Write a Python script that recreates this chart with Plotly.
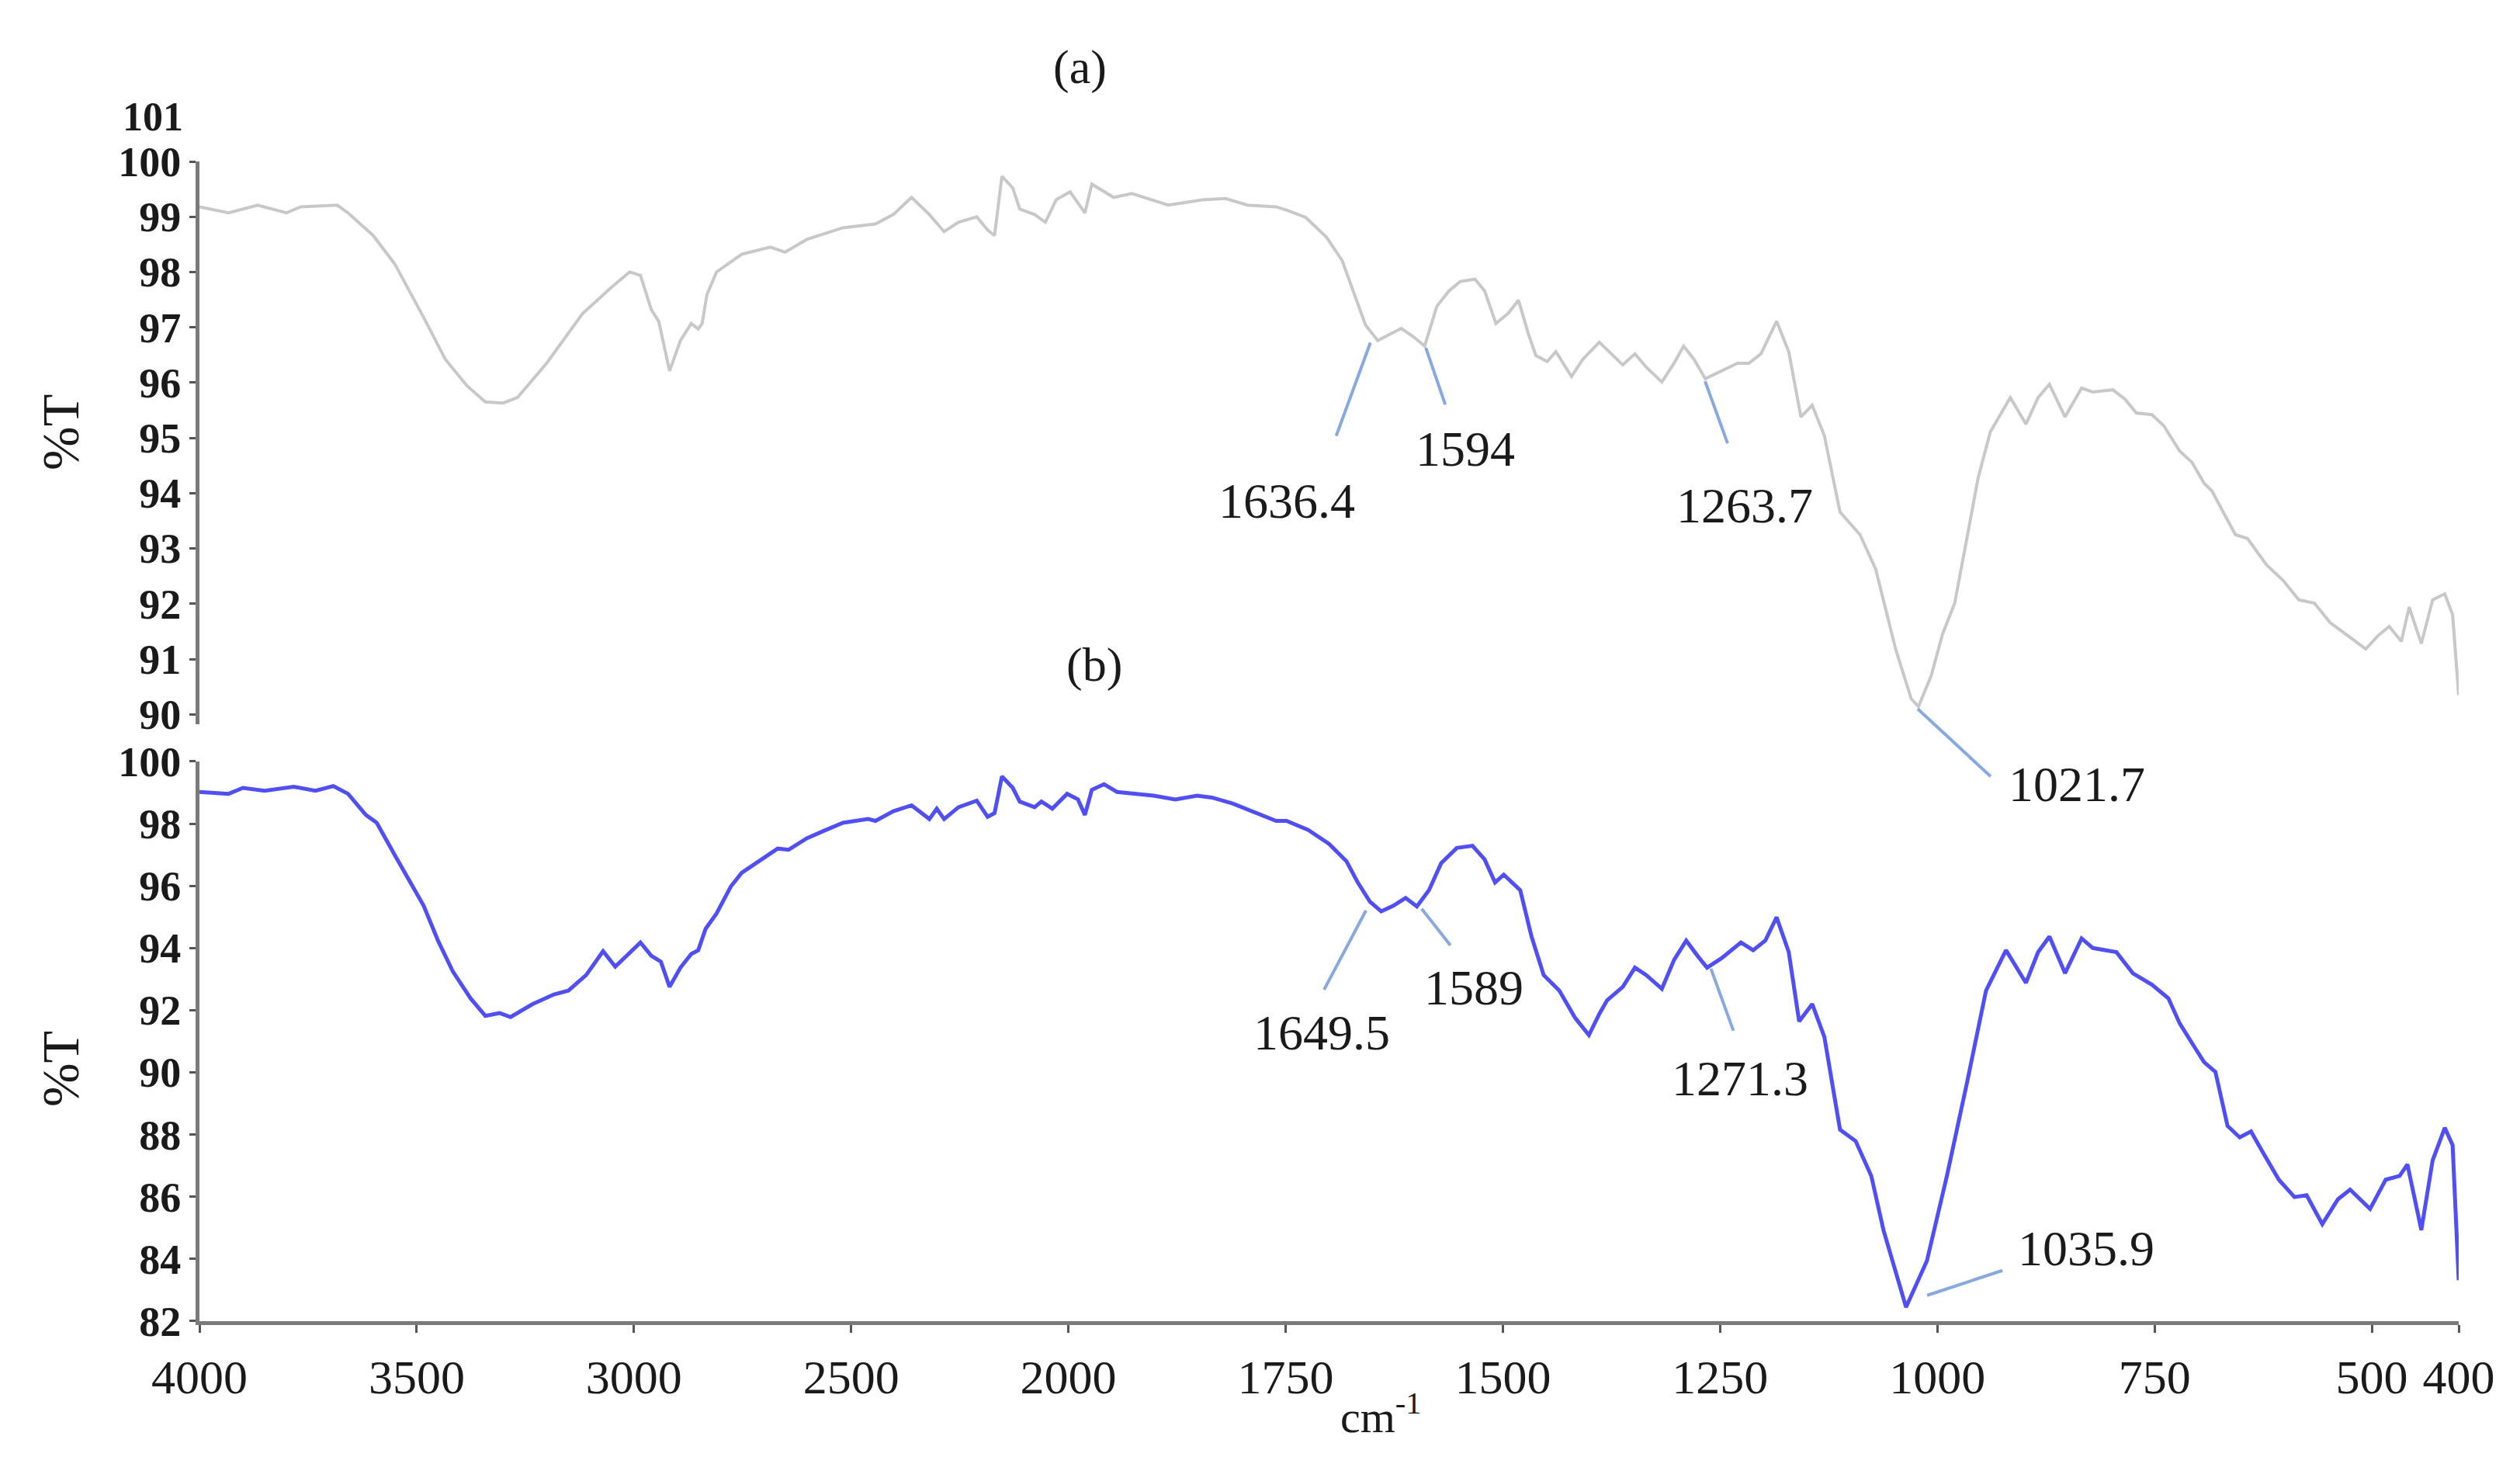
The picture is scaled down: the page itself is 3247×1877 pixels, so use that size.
import numpy as np
import plotly.graph_objects as go

# ---------------- data ----------------
wn_a = [4000, 3933, 3866, 3800, 3767, 3683, 3658, 3600, 3550, 3484, 3434, 3384, 3342, 3301, 3268,
        3201, 3118, 3051, 3010, 2985, 2960, 2943, 2918, 2893, 2868, 2852, 2843, 2832, 2810, 2752,
        2686, 2652, 2602, 2519, 2444, 2403, 2361, 2320, 2286, 2253, 2211, 2186, 2170, 2153, 2128,
        2112, 2078, 2053, 2028, 1998, 1981, 1973, 1948, 1927, 1885, 1844, 1819, 1794, 1761, 1749,
        1727, 1703, 1685, 1671, 1658, 1644, 1630, 1617, 1603, 1590, 1576, 1562, 1549, 1532, 1521,
        1508, 1494, 1482, 1471, 1462, 1449, 1439, 1421, 1408, 1389, 1371, 1362, 1348, 1335, 1317,
        1303, 1292, 1280, 1267, 1248, 1230, 1217, 1203, 1185, 1171, 1157, 1144, 1130, 1112, 1089,
        1071, 1048, 1030, 1021.7, 1007, 994, 980, 966, 953, 939, 916, 898, 884, 871, 853,
        834, 821, 798, 784, 771, 753, 739, 721, 707, 693, 684, 671, 657, 643, 621,
        602, 584, 566, 548, 530, 507, 493, 480, 466, 457, 443, 430, 416, 407, 400]
t_a = [99.18, 99.07, 99.21, 99.07, 99.18, 99.21, 99.07, 98.66, 98.14, 97.18, 96.42, 95.94, 95.65, 95.63, 95.73,
       96.35, 97.25, 97.73, 98.00, 97.94, 97.32, 97.11, 96.21, 96.76, 97.07, 96.97, 97.07, 97.59, 98.00, 98.32,
       98.45, 98.36, 98.59, 98.80, 98.87, 99.04, 99.35, 99.04, 98.73, 98.90, 99.00, 98.76, 98.66, 99.73, 99.52,
       99.14, 99.04, 98.90, 99.31, 99.45, 99.07, 99.59, 99.35, 99.42, 99.21, 99.31, 99.33, 99.21, 99.18, 99.12,
       98.99, 98.63, 98.21, 97.59, 97.04, 96.76, 96.87, 96.98, 96.83, 96.66, 97.38, 97.66, 97.83, 97.87, 97.66,
       97.07, 97.25, 97.49, 96.90, 96.49, 96.38, 96.56, 96.11, 96.42, 96.73, 96.45, 96.32, 96.52, 96.28, 96.01,
       96.35, 96.66, 96.42, 96.07, 96.21, 96.35, 96.35, 96.52, 97.11, 96.56, 95.38, 95.59, 95.04, 93.66, 93.25,
       92.63, 91.18, 90.28, 90.14, 90.70, 91.45, 92.01, 93.18, 94.28, 95.11, 95.73, 95.25, 95.73, 95.97, 95.38,
       95.90, 95.83, 95.87, 95.70, 95.45, 95.42, 95.21, 94.76, 94.56, 94.18, 94.04, 93.66, 93.25, 93.18, 92.70,
       92.42, 92.07, 92.01, 91.66, 91.45, 91.18, 91.42, 91.59, 91.32, 91.94, 91.28, 92.07, 92.18, 91.80, 90.35]

wn_b = [4000, 3933, 3900, 3850, 3783, 3733, 3692, 3658, 3617, 3592, 3550, 3484, 3451, 3417, 3376,
        3342, 3309, 3284, 3234, 3184, 3151, 3110, 3071, 3043, 2985, 2960, 2938, 2918, 2893, 2868,
        2852, 2835, 2810, 2777, 2752, 2702, 2669, 2644, 2602, 2561, 2519, 2461, 2444, 2403, 2361,
        2320, 2303, 2286, 2253, 2211, 2186, 2170, 2153, 2128, 2112, 2078, 2062, 2037, 2003, 1989,
        1981, 1973, 1959, 1944, 1902, 1877, 1852, 1835, 1811, 1761, 1749, 1724, 1700, 1680, 1667,
        1653, 1640, 1626, 1612, 1599, 1585, 1571, 1553, 1535, 1521, 1509, 1499, 1480, 1467, 1453,
        1435, 1417, 1401, 1389, 1380, 1362, 1348, 1335, 1317, 1303, 1289, 1276, 1265, 1248, 1226,
        1212, 1198, 1185, 1171, 1159, 1144, 1130, 1112, 1094, 1076, 1062, 1048, 1036, 1012, 989,
        966, 944, 921, 898, 884, 871, 853, 834, 821, 794, 775, 753, 734, 721, 703,
        693, 680, 666, 652, 639, 625, 607, 589, 575, 557, 539, 525, 502, 484, 468,
        459, 443, 430, 416, 407, 400]
t_b = [99.02, 98.96, 99.15, 99.06, 99.19, 99.06, 99.21, 98.96, 98.28, 98.03, 96.98, 95.36, 94.24, 93.25, 92.38,
       91.82, 91.91, 91.78, 92.19, 92.51, 92.63, 93.13, 93.90, 93.40, 94.18, 93.75, 93.56, 92.75, 93.37, 93.81,
       93.93, 94.62, 95.11, 95.98, 96.42, 96.91, 97.20, 97.16, 97.53, 97.78, 98.03, 98.15, 98.09, 98.40, 98.59,
       98.15, 98.48, 98.15, 98.53, 98.74, 98.22, 98.34, 99.52, 99.15, 98.71, 98.53, 98.71, 98.48, 98.96, 98.78,
       98.28, 99.09, 99.27, 99.02, 98.90, 98.78, 98.90, 98.84, 98.65, 98.09, 98.09, 97.80, 97.35, 96.79, 96.11,
       95.49, 95.18, 95.36, 95.61, 95.34, 95.86, 96.73, 97.22, 97.29, 96.85, 96.11, 96.36, 95.86, 94.37, 93.13,
       92.63, 91.76, 91.20, 91.88, 92.32, 92.75, 93.37, 93.13, 92.69, 93.62, 94.24, 93.75, 93.37, 93.68, 94.18,
       93.93, 94.24, 94.99, 93.87, 91.64, 92.20, 91.14, 88.16, 87.79, 86.67, 84.93, 83.56, 82.45, 83.94, 86.67,
       89.65, 92.63, 93.93, 92.88, 93.87, 94.37, 93.19, 94.31, 94.00, 93.87, 93.19, 92.82, 92.38, 91.57, 90.77,
       90.33, 90.02, 88.28, 87.91, 88.10, 87.41, 86.55, 85.99, 86.05, 85.12, 85.92, 86.23, 85.61, 86.55, 86.67,
       87.04, 84.93, 87.17, 88.22, 87.66, 83.32]

x_ticks = [4000, 3500, 3000, 2500, 2000, 1750, 1500, 1250, 1000, 750, 500, 400]
y_ticks_a = [90, 91, 92, 93, 94, 95, 96, 97, 98, 99, 100]
y_ticks_b = [82, 84, 86, 88, 90, 92, 94, 96, 98, 100]

peaks_a = [1636.4, 1594, 1263.7, 1021.7]
peaks_b = [1649.5, 1589, 1271.3, 1035.9]

# label geometry (pixel offsets from the peak point, +y = up): line start, line end, text centre
lab_a = [((-18, -7), (-62, -127), (-126, -211)),
         ((6, -6), (31, -79), (57, -136)),
         ((-4, -5), (25, -85), (47, -165)),
         ((-1, -3), (93, -90), (204, -100))]
lab_b = [((-9, -8), (-63, -110), (-66, -166)),
         ((-5, -18), (32, -65), (62, -120)),
         ((12, -10), (41, -90), (50, -152)),
         ((27, 15), (124, 47), (232, 75))]

X_RANGE = [3000, 400]
Y_RANGE_A = [89.82, 100]
Y_RANGE_B = [82, 100]
DOM_A = [0.5147, 1.0]
DOM_B = [0.0, 0.4826]


def tx(w):
    """scale change at 2000 cm-1 (region above 2000 compressed 2x)"""
    w = np.asarray(w, dtype=float)
    return np.where(w <= 2000, w, 2000 + (w - 2000) / 2.0)


def to_paper_x(xv):
    return (X_RANGE[0] - xv) / (X_RANGE[0] - X_RANGE[1])


def to_paper_y(v, rng, dom):
    return dom[0] + (v - rng[0]) / (rng[1] - rng[0]) * (dom[1] - dom[0])


SERIF = "Liberation Serif"
LEAD = "#87a9df"
AXC = "#7a7a7a"
TXT = "#1a1a1a"

fig = go.Figure()
fig.add_trace(go.Scatter(x=tx(wn_a), y=t_a, mode="lines", xaxis="x", yaxis="y",
                         line=dict(color="#c8c8c8", width=4), showlegend=False))
fig.add_trace(go.Scatter(x=tx(wn_b), y=t_b, mode="lines", xaxis="x2", yaxis="y2",
                         line=dict(color="#4f4ff5", width=5), showlegend=False))

shapes = []
annots = []
wa = np.array(wn_a)[::-1]; ta = np.array(t_a)[::-1]
wb = np.array(wn_b)[::-1]; tb = np.array(t_b)[::-1]
for peaks, labs, ws, ts, rng, dom in [(peaks_a, lab_a, wa, ta, Y_RANGE_A, DOM_A),
                                       (peaks_b, lab_b, wb, tb, Y_RANGE_B, DOM_B)]:
    for p, (s, e, t) in zip(peaks, labs):
        yv = float(np.interp(p, ws, ts))
        px = float(to_paper_x(tx(p)))
        py = float(to_paper_y(yv, rng, dom))
        shapes.append(dict(type="line", xref="paper", yref="paper", xsizemode="pixel", ysizemode="pixel",
                           xanchor=px, yanchor=py, x0=s[0], x1=e[0], y0=s[1], y1=e[1],
                           line=dict(color=LEAD, width=4)))
        annots.append(dict(x=px, y=py, xref="paper", yref="paper", text="%g" % p, showarrow=False,
                           xshift=t[0], yshift=t[1], xanchor="center", yanchor="middle",
                           font=dict(family=SERIF, size=64, color=TXT)))


def note(x, y, text, size, **kw):
    d = dict(x=x, y=y, xref="paper", yref="paper", text=text, showarrow=False,
             xanchor="center", yanchor="middle", font=dict(family=SERIF, size=size, color=TXT))
    d.update(kw)
    return d


annots += [
    note(0.3896, 1.081, "(a)", 62),
    note(0.3961, 0.5656, "(b)", 62),
    note(0.5229, -0.080, "cm<sup>-1</sup>", 58),
    note(-0.0615, 0.7664, "%T", 68, textangle=-90),
    note(-0.0615, 0.2175, "%T", 68, textangle=-90),
    note(-0.0065, 1.0385, "<b>101</b>", 52, xanchor="right"),
]

yfont = dict(family=SERIF, size=54, color=TXT)
fig.update_layout(
    width=3247, height=1877,
    margin=dict(l=249, r=87, t=200, b=183),
    paper_bgcolor="white", plot_bgcolor="white",
    xaxis=dict(range=X_RANGE, domain=[0, 1], anchor="y", showline=False, showticklabels=False,
               ticks="", showgrid=False, zeroline=False),
    yaxis=dict(range=Y_RANGE_A, domain=DOM_A, anchor="x", showline=True, linecolor=AXC,
               linewidth=5, ticks="outside", ticklen=8, tickwidth=3, tickcolor="#555",
               tickvals=y_ticks_a, ticktext=["<b>%d</b>" % v for v in y_ticks_a], tickfont=yfont,
               showgrid=False, zeroline=False),
    xaxis2=dict(range=X_RANGE, domain=[0, 1], anchor="y2", showline=True, linecolor=AXC,
                linewidth=5, ticks="outside", ticklen=10, tickwidth=3, tickcolor="#555",
                tickvals=list(tx(x_ticks)), ticktext=[str(v) for v in x_ticks],
                tickfont=dict(family=SERIF, size=62, color=TXT), ticklabelstandoff=4,
                showgrid=False, zeroline=False),
    yaxis2=dict(range=Y_RANGE_B, domain=DOM_B, anchor="x2", showline=True, linecolor=AXC,
                linewidth=5, ticks="outside", ticklen=8, tickwidth=3, tickcolor="#555",
                tickvals=y_ticks_b, ticktext=["<b>%d</b>" % v for v in y_ticks_b], tickfont=yfont,
                showgrid=False, zeroline=False),
    shapes=shapes,
    annotations=annots,
)

fig.write_html("out.html")
